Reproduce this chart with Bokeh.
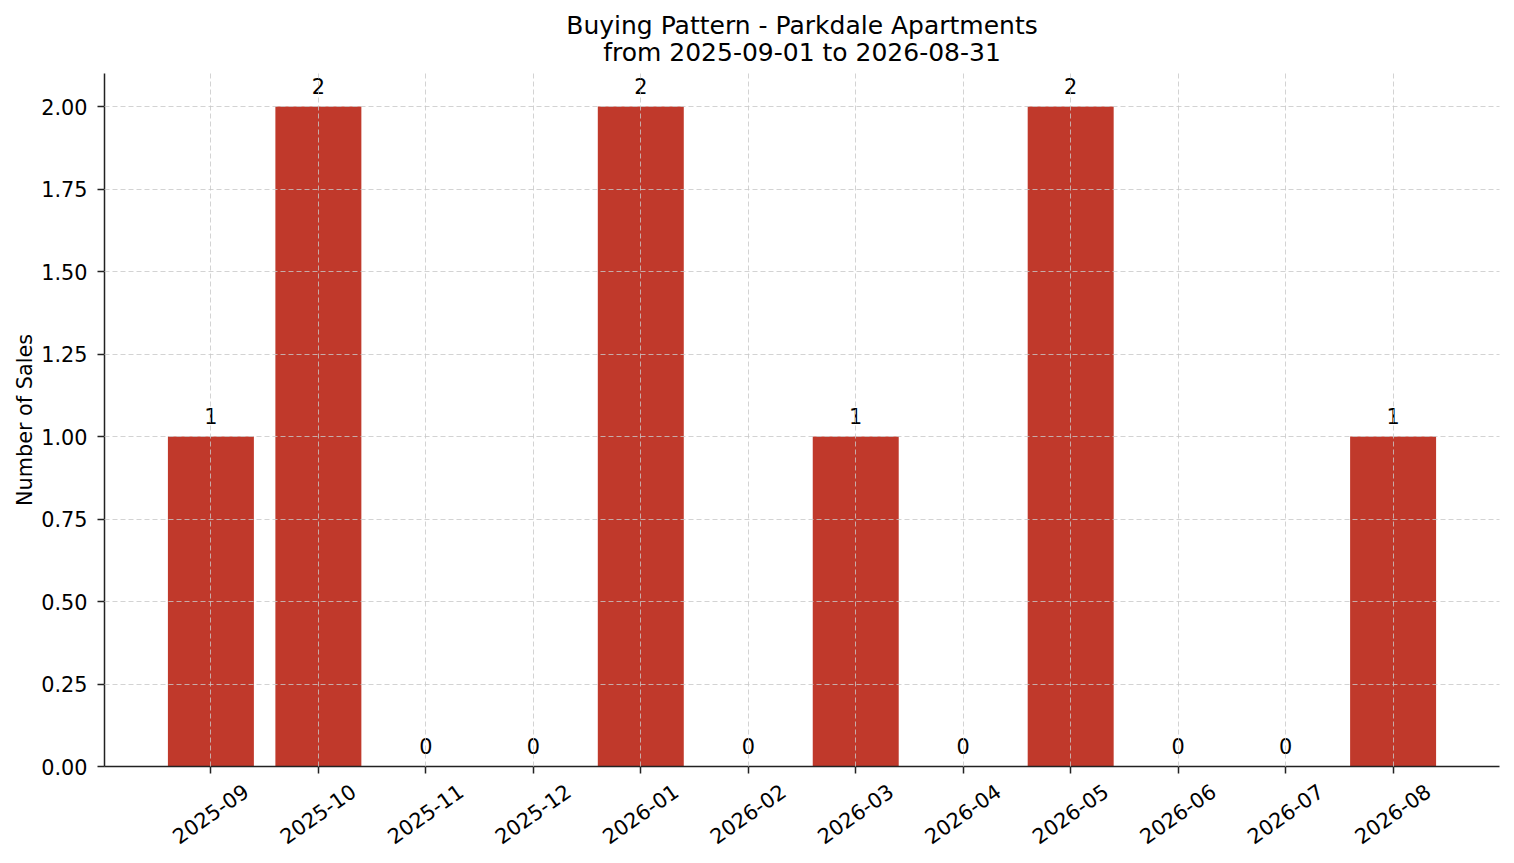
import math

from bokeh.plotting import figure
from bokeh.models import ColumnDataSource, Range1d, FixedTicker, NumeralTickFormatter, LinearAxis, Title
from bokeh.embed import file_html
from bokeh.resources import INLINE

months = ['2025-09', '2025-10', '2025-11', '2025-12', '2026-01', '2026-02',
          '2026-03', '2026-04', '2026-05', '2026-06', '2026-07', '2026-08']
sales = [1, 2, 0, 0, 2, 0, 1, 0, 2, 0, 0, 1]
y_ticks = [0.0, 0.25, 0.5, 0.75, 1.0, 1.25, 1.5, 1.75, 2.0]

title_line1 = 'Buying Pattern - Parkdale Apartments'
title_line2 = 'from 2025-09-01 to 2026-08-31'
font = 'DejaVu Sans'
bar_color = '#c0392b'
spine = '#222222'

idx = list(range(len(months)))
x_lo, x_hi = -0.99, 11.99
frame_w = 1395

src = ColumnDataSource(data=dict(
    idx=idx,
    sales=sales,
    label=[str(s) for s in sales],
))

p = figure(
    frame_width=frame_w, frame_height=693,
    min_border_left=104, min_border_right=15, min_border_top=73, min_border_bottom=88,
    x_range=Range1d(x_lo, x_hi), y_range=Range1d(0, 2.1),
    output_backend='svg', toolbar_location=None, title=None,
)

# two centred title lines, the second one nearest to the plot
# (negative standoff on the first line pulls the two lines together)
for txt, so in ((title_line2, 13), (title_line1, -21)):
    p.add_layout(Title(text=txt, align='center', text_font=font, text_font_size='25px',
                       text_font_style='normal', text_color='black', standoff=so), 'above')

# bars
p.vbar(x='idx', top='sales', width=0.8, source=src, fill_color=bar_color, line_color=None)

# value labels on top of the bars
p.text(x='idx', y='sales', text='label', source=src,
       text_align='center', text_baseline='alphabetic', y_offset=-21,
       text_font={'value': font}, text_font_size={'value': '20.8px'}, text_color='black')

# axes
for ax in (p.xaxis[0], p.yaxis[0]):
    ax.axis_line_color = spine
    ax.axis_line_width = 1.5
    ax.major_tick_line_color = spine
    ax.major_tick_line_width = 1.5
    ax.major_tick_in = 0
    ax.major_tick_out = 7
    ax.minor_tick_line_color = None
    ax.major_label_text_font = font
    ax.major_label_text_font_size = '20.8px'
    ax.major_label_text_color = 'black'

p.xaxis.ticker = FixedTicker(ticks=idx)
p.xaxis.major_label_overrides = {i: '' for i in idx}

# month labels: a second axis on a slightly shifted range, so the rotated
# labels end up centred below each tick (as matplotlib does)
shift = 35 * (x_hi - x_lo) / frame_w
p.extra_x_ranges = {'lab': Range1d(x_lo - shift, x_hi - shift)}
lab_axis = LinearAxis(x_range_name='lab', ticker=FixedTicker(ticks=idx),
                      major_label_overrides={i: m for i, m in zip(idx, months)},
                      axis_line_color=None, major_tick_line_color=None, minor_tick_line_color=None,
                      major_tick_in=0, major_tick_out=0, major_label_standoff=15,
                      major_label_orientation=math.radians(35),
                      major_label_text_font=font, major_label_text_font_size='20.8px',
                      major_label_text_color='black')
p.add_layout(lab_axis, 'below')

p.yaxis.ticker = FixedTicker(ticks=y_ticks)
p.yaxis.formatter = NumeralTickFormatter(format='0.00')
p.yaxis.major_label_standoff = 10
p.yaxis.axis_label = 'Number of Sales'
p.yaxis.axis_label_text_font = font
p.yaxis.axis_label_text_font_size = '20.8px'
p.yaxis.axis_label_text_font_style = 'normal'
p.yaxis.axis_label_text_color = 'black'
p.yaxis.axis_label_standoff = 1

# dashed grid drawn over the bars
for g in (p.xgrid[0], p.ygrid[0]):
    g.grid_line_color = '#c8c8c8'
    g.grid_line_alpha = 0.8
    g.grid_line_width = 1
    g.grid_line_dash = '5 3'
    g.level = 'overlay'
p.xgrid.ticker = FixedTicker(ticks=idx)
p.ygrid.ticker = FixedTicker(ticks=y_ticks)

p.outline_line_color = None
p.background_fill_color = 'white'
p.border_fill_color = 'white'

open('out.html', 'w').write(file_html(p, INLINE))
